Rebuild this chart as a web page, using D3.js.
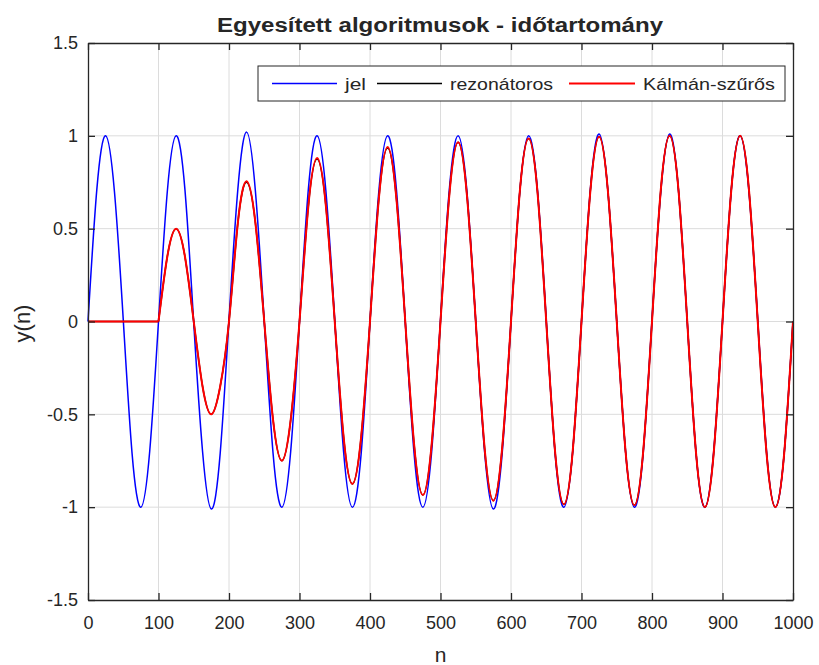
<!DOCTYPE html>
<html>
<head>
<meta charset="utf-8">
<script src="https://cdn.jsdelivr.net/npm/d3@7"></script>
<style>
  body { margin: 0; background: #fff; }
  text { font-family: Arial, "Liberation Sans", sans-serif; fill: #262626; }
</style>
</head>
<body>
<div id="chart"></div>
<script>
// sample index, every 12.5 samples (8 points per period)
const nValues = d3.range(0, 1000.1, 12.5);

// jel (input signal)
const jel = [
  0, 0.71, 1.0, 0.70, 0.01, -0.71, -1.0, -0.70,
  0, 0.70, 1.0, 0.71, -0.01, -0.70, -1.01, -0.71,
  0.01, 0.71, 1.02, 0.70, 0, -0.71, -1.0, -0.70,
  0, 0.71, 1.0, 0.70, 0.01, -0.70, -1.0, -0.71,
  0, 0.70, 1.0, 0.71, 0, -0.71, -1.0, -0.70,
  0.01, 0.71, 1.0, 0.70, 0, -0.70, -1.01, -0.71,
  0, 0.70, 1.0, 0.71, 0.01, -0.71, -1.0, -0.70,
  0, 0.71, 1.01, 0.70, 0, -0.70, -1.0, -0.71,
  0.01, 0.70, 1.01, 0.71, 0, -0.71, -1.0, -0.70,
  0, 0.71, 1.0, 0.70, 0.01, -0.70, -1.0, -0.71,
  0
];

// rezonátoros estimate
const rezonatoros = [
  0, 0, 0, 0, 0, 0, 0, 0,
  0, 0.35, 0.50, 0.35, 0, -0.35, -0.50, -0.35,
  0, 0.53, 0.75, 0.53, 0, -0.53, -0.75, -0.53,
  0, 0.62, 0.875, 0.62, 0, -0.62, -0.875, -0.62,
  0, 0.66, 0.935, 0.66, 0, -0.66, -0.935, -0.66,
  0, 0.68, 0.965, 0.68, 0, -0.68, -0.965, -0.68,
  0, 0.70, 0.985, 0.70, 0, -0.70, -0.985, -0.70,
  0, 0.70, 0.995, 0.70, 0, -0.70, -0.99, -0.70,
  0, 0.71, 1.0, 0.71, 0, -0.71, -1.0, -0.71,
  0, 0.71, 1.0, 0.71, 0, -0.71, -1.0, -0.71,
  0
];

// Kálmán-szűrős estimate
const kalman = [
  0, 0, 0, 0, 0, 0, 0, 0,
  0, 0.35, 0.50, 0.35, 0, -0.35, -0.50, -0.35,
  0, 0.53, 0.755, 0.53, 0, -0.53, -0.75, -0.53,
  0, 0.62, 0.88, 0.62, 0, -0.62, -0.875, -0.62,
  0, 0.66, 0.94, 0.66, 0, -0.66, -0.935, -0.66,
  0, 0.68, 0.965, 0.68, 0, -0.68, -0.965, -0.68,
  0, 0.70, 0.985, 0.70, 0, -0.70, -0.985, -0.70,
  0, 0.70, 0.995, 0.70, 0, -0.70, -0.99, -0.70,
  0, 0.71, 1.0, 0.71, 0, -0.71, -1.0, -0.71,
  0, 0.71, 1.0, 0.71, 0, -0.71, -1.0, -0.71,
  0
];

const xTicks = d3.range(0, 1001, 100);
const yTicks = [-1.5, -1, -0.5, 0, 0.5, 1, 1.5];

// start: index where the oscillation begins (flat before it)
const series = [
  { name: 'jel', values: jel, color: '#0000ff', width: 1.5, start: 0 },
  { name: 'rezonátoros', values: rezonatoros, color: '#000000', width: 1.5, start: 8 },
  { name: 'Kálmán-szűrős', values: kalman, color: '#ff0000', width: 2, start: 8 }
];

const width = 819, height = 665;
const margin = { top: 43, right: 26, bottom: 65, left: 88 };
const axisColor = '#262626';

const svg = d3.select('#chart').append('svg')
  .attr('width', width)
  .attr('height', height);

const x = d3.scaleLinear().domain([0, 1000]).range([margin.left, width - margin.right]);
const y = d3.scaleLinear().domain([-1.5, 1.5]).range([height - margin.bottom, margin.top]);

// grid
svg.append('g').selectAll('line')
  .data(xTicks.slice(1, -1))
  .join('line')
  .attr('x1', d => x(d)).attr('x2', d => x(d))
  .attr('y1', y(-1.5)).attr('y2', y(1.5))
  .attr('stroke', '#dcdcdc').attr('stroke-width', 1);
svg.append('g').selectAll('line')
  .data(yTicks.slice(1, -1))
  .join('line')
  .attr('x1', x(0)).attr('x2', x(1000))
  .attr('y1', d => y(d)).attr('y2', d => y(d))
  .attr('stroke', '#dcdcdc').attr('stroke-width', 1);

// lines: flat lead-in drawn straight, oscillation drawn smooth
const pts = s => s.values.map((v, i) => [nValues[i], v]);
const smooth = d3.line().x(d => x(d[0])).y(d => y(d[1])).curve(d3.curveNatural);
const straight = d3.line().x(d => x(d[0])).y(d => y(d[1]));

series.forEach(s => {
  const p = pts(s);
  const g = svg.append('g')
    .attr('fill', 'none')
    .attr('stroke', s.color)
    .attr('stroke-width', s.width)
    .attr('stroke-linejoin', 'round');
  if (s.start > 0) g.append('path').attr('d', straight(p.slice(0, s.start + 1)));
  g.append('path').attr('d', smooth(p.slice(s.start)));
});

// axes, ticks inward on all sides
const tickLen = 7;
const fmt = d => String(d);
const xAxisB = svg.append('g')
  .attr('transform', `translate(0,${y(-1.5)})`)
  .call(d3.axisBottom(x).tickValues(xTicks).tickSizeInner(-tickLen).tickSizeOuter(0).tickPadding(16).tickFormat(fmt));
const xAxisT = svg.append('g')
  .attr('transform', `translate(0,${y(1.5)})`)
  .call(d3.axisTop(x).tickValues(xTicks).tickSizeInner(-tickLen).tickSizeOuter(0).tickFormat(''));
const yAxisL = svg.append('g')
  .attr('transform', `translate(${x(0)},0)`)
  .call(d3.axisLeft(y).tickValues(yTicks).tickSizeInner(-tickLen).tickSizeOuter(0).tickPadding(10).tickFormat(fmt));
const yAxisR = svg.append('g')
  .attr('transform', `translate(${x(1000)},0)`)
  .call(d3.axisRight(y).tickValues(yTicks).tickSizeInner(-tickLen).tickSizeOuter(0).tickFormat(''));

[xAxisB, xAxisT, yAxisL, yAxisR].forEach(g => {
  g.select('.domain').attr('stroke', axisColor).attr('stroke-width', 1.3);
  g.selectAll('.tick line').attr('stroke', axisColor).attr('stroke-width', 1.3);
  g.selectAll('.tick text').attr('fill', axisColor).style('font-size', '18px')
    .style('font-family', 'Arial, "Liberation Sans", sans-serif');
});

// title and axis labels
svg.append('text')
  .attr('x', 217).attr('y', 32)
  .attr('textLength', 446).attr('lengthAdjust', 'spacingAndGlyphs')
  .style('font-size', '20px').style('font-weight', 'bold')
  .attr('fill', '#000')
  .text('Egyesített algoritmusok - időtartomány');

svg.append('text')
  .attr('x', (x(0) + x(1000)) / 2).attr('y', 662)
  .attr('text-anchor', 'middle')
  .style('font-size', '21px')
  .text('n');

svg.append('text')
  .attr('transform', `translate(30,${y(0) + 2}) rotate(-90)`)
  .attr('text-anchor', 'middle')
  .style('font-size', '22px')
  .text('y(n)');

// legend
const legend = svg.append('g');
legend.append('rect')
  .attr('x', 258).attr('y', 66).attr('width', 527).attr('height', 35)
  .attr('fill', '#fff').attr('stroke', axisColor).attr('stroke-width', 1);
const legendX = [272, 377, 569];
const legendLen = [65, 65, 66];
const legendTextLen = [21, 103, 132];
series.forEach((s, i) => {
  legend.append('line')
    .attr('x1', legendX[i]).attr('x2', legendX[i] + legendLen[i])
    .attr('y1', 83.5).attr('y2', 83.5)
    .attr('stroke', s.color).attr('stroke-width', s.width);
  legend.append('text')
    .attr('x', legendX[i] + legendLen[i] + 8).attr('y', 90)
    .attr('textLength', legendTextLen[i]).attr('lengthAdjust', 'spacingAndGlyphs')
    .style('font-size', '17px')
    .attr('fill', '#000')
    .text(s.name);
});
</script>
</body>
</html>
